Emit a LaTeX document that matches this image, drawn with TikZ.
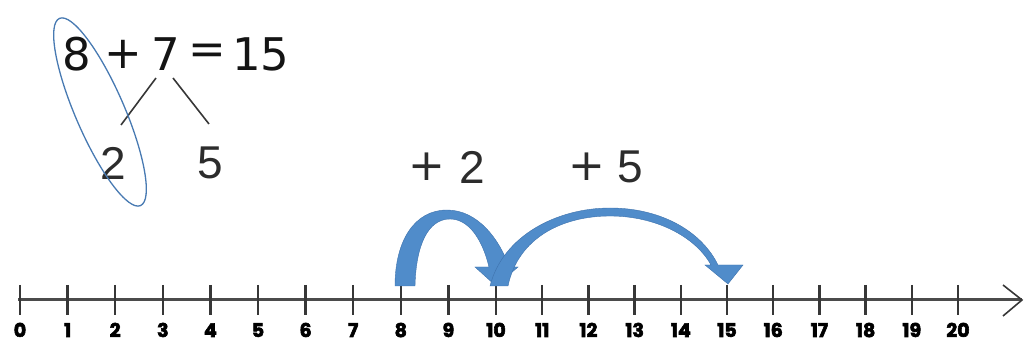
\documentclass[tikz,border=0pt]{standalone}
\usepackage{fontspec}
\setmainfont{Liberation Sans}
\newfontfamily\numfont{Poppins}[FakeBold=3]
\newfontfamily\eqfont{DejaVu Sans}
\definecolor{arrowblue}{RGB}{80,140,202}
\definecolor{arrowdark}{RGB}{62,114,172}
\definecolor{ellblue}{RGB}{72,122,178}
\definecolor{linegray}{RGB}{55,55,55}
\definecolor{ink}{RGB}{20,20,20}
\tikzset{
  eqtext/.style={inner sep=0pt, text=ink, font=\eqfont\fontsize{45}{50}\selectfont},
  digittext/.style={inner sep=0pt, text=ink!90, font=\fontsize{46}{50}\selectfont},
  plustext/.style={inner sep=0pt, text=ink!90, font=\eqfont\fontsize{44}{50}\selectfont},
  branch/.style={draw=linegray, line width=1.6pt},
  tickline/.style={draw=linegray, line width=2.4pt},
  axisline/.style={draw=linegray!90, line width=3pt},
  arrowtip/.style={draw=linegray, line width=1.6pt},
  numlabel/.style={inner sep=0pt, anchor=base, text=black, font=\numfont\bfseries\fontsize{19}{19}\selectfont},
  jump/.style={fill=arrowblue, draw=arrowdark, line width=0.4pt},
  ring/.style={draw=ellblue, line width=1.3pt}
}
\begin{document}
\begin{tikzpicture}[x=1pt,y=-1pt]
\useasboundingbox (0,0) rectangle (1029,344);

% equation
\node[eqtext] (eight) at (77,54) {8};
\node[eqtext] (plus) at (123,54) {+};
\node[eqtext] (seven) at (166,54) {7};
\node[eqtext] (eq) at (207,54) {=};
\node[eqtext] (fifteen) at (261,54) {15};
\node[digittext] (two) at (113,163) {2};
\node[digittext] (five) at (210,163) {5};

% branches
\coordinate (b1) at (156,78);
\coordinate (b2) at (121,125);
\coordinate (b3) at (173,78);
\coordinate (b4) at (209,124);
\draw[branch] (b1) -- (b2);
\draw[branch] (b3) -- (b4);

% ellipse
\coordinate (ellc) at (100,112);
\draw[ring, rotate around={-66.6:(ellc)}] (ellc) ellipse [x radius=102, y radius=24.5];

% jump labels
\node[plustext] (plusA) at (427,167) {+};
\node[digittext] (twoA) at (472,167) {2};
\node[plustext] (plusB) at (587,167) {+};
\node[digittext] (fiveB) at (630,167) {5};

% number line
\coordinate (axstart) at (18,300);
\coordinate (axend) at (1022,300);
\coordinate (aup) at (1003,285);
\coordinate (adown) at (1003,316);
\draw[axisline] (axstart) -- (axend);
\draw[arrowtip] (aup) -- (axend) -- (adown);
\foreach \i/\x in {0/20,1/67.6,2/115.2,3/162.8,4/210.4,5/258,6/305.6,7/353.2,8/400.8,9/448.4,10/496,11/542.2,12/588.4,13/634.6,14/680.8,15/727,16/773.2,17/819.4,18/865.6,19/911.8,20/958}{
  \coordinate (t\i) at (\x,300);
  \draw[tickline] (\x,285) -- (\x,315);
  \node[numlabel] (l\i) at (\x,337) {\i};
}

% jump arrow 8 -> 10
\path[jump] (395,286)
  .. controls (395,240) and (415,210) .. (447,210)
  .. controls (478,210) and (500,240) .. (509,267)
  -- (518,267) -- (496,286) -- (475,267) -- (489,267)
  .. controls (482,238) and (468,219) .. (450,219)
  .. controls (428,219) and (416,245) .. (415,286) -- cycle;

% jump arrow 10 -> 15
\path[jump] (490,286)
  .. controls (503,235) and (558,208) .. (610,208)
  .. controls (662,208) and (702,232) .. (718,265)
  -- (743,265) -- (728,284) -- (705,265) -- (711,265)
  .. controls (695,236) and (655,216) .. (610,216)
  .. controls (562,216) and (518,238) .. (508,286) -- cycle;
\end{tikzpicture}
\end{document}
